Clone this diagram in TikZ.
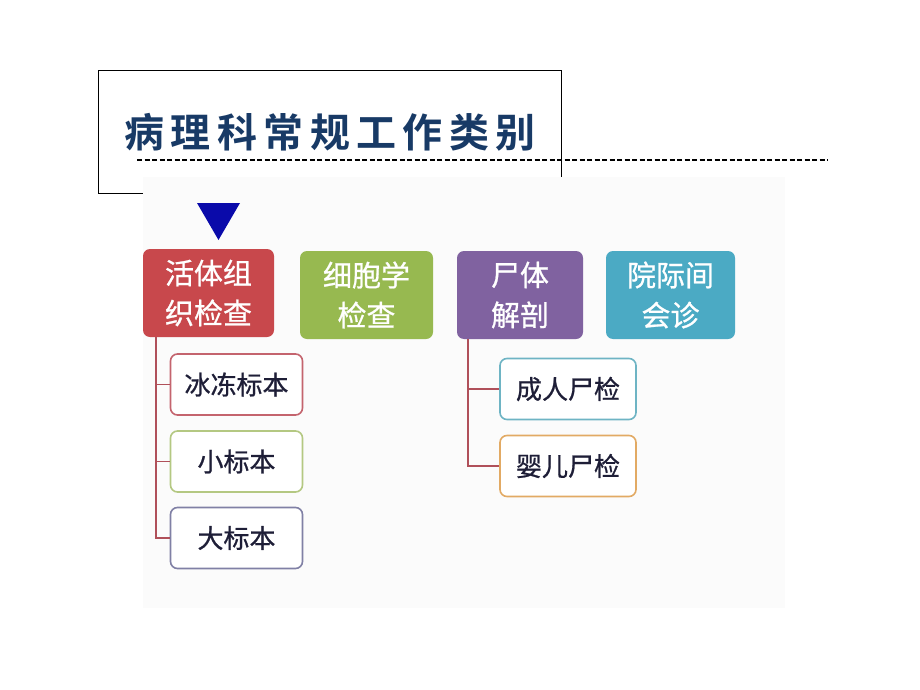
\documentclass[tikz,border=0pt]{standalone}
\usepackage{fontspec}
\newfontfamily\cjk{Noto Sans CJK SC}
\newfontfamily\cjkb{Noto Sans CJK SC Bold}
\newfontfamily\cjkm[FakeBold=0.8]{Noto Sans CJK SC}
\definecolor{navy}{RGB}{24,58,102}
\definecolor{cred}{RGB}{200,72,76}
\definecolor{cgreen}{RGB}{151,185,80}
\definecolor{cpurple}{RGB}{128,98,160}
\definecolor{cteal}{RGB}{75,170,196}
\definecolor{lred}{RGB}{196,100,110}
\definecolor{lgreen}{RGB}{180,200,130}
\definecolor{lblue}{RGB}{128,128,165}
\definecolor{lteal}{RGB}{110,180,196}
\definecolor{lorange}{RGB}{226,170,100}
\definecolor{conn}{RGB}{176,80,90}
\definecolor{txt}{RGB}{30,30,55}
\definecolor{bgimg}{RGB}{251,251,251}
\definecolor{tri}{RGB}{10,10,170}
\tikzset{
  topbox/.style={rounded corners=7pt, minimum width=#1, minimum height=88pt, align=center, text=white, font=\cjkm\fontsize{29}{40}\selectfont, inner sep=0pt},
  subbox/.style={rounded corners=7pt, draw=#1, line width=1.6pt, fill=white, minimum width=132pt, minimum height=61pt, text=txt, font=\cjkm\fontsize{26}{30}\selectfont, inner sep=0pt},
  link/.style={draw=conn, line width=1.4pt}
}
\begin{document}
\begin{tikzpicture}[x=1pt,y=-1pt]
\useasboundingbox (0,0) rectangle (920,690);
\fill[white] (0,0) rectangle (920,690);
% title box
\draw[line width=0.8pt] (98,70) rectangle (561,193);
% image background
\fill[bgimg] (143,177) rectangle (785,608);
\node (title) at (330,132) {\cjkb\fontsize{40}{44}\selectfont\addfontfeature{LetterSpace=16}\color{navy}病理科常规工作类别};
\coordinate (dl) at (137,160);
\coordinate (dr) at (828,160);
\draw[line width=1.2pt, dash pattern=on 5pt off 2.5pt] (dl) -- (dr);
% triangle
\fill[tri] (197,203) -- (240,203) -- (218.5,240) -- cycle;
% top boxes
\node[topbox=131pt, fill=cred] (a) at (208.5,293) {活体组\\织检查};
\node[topbox=133pt, fill=cgreen] (b) at (366.5,295) {细胞学\\检查};
\node[topbox=126pt, fill=cpurple] (c) at (520,295) {尸体\\解剖};
\node[topbox=129pt, fill=cteal] (d) at (670.5,295) {院际间\\会诊};
% sub boxes
\node[subbox=lred] (a1) at (236.5,384.5) {冰冻标本};
\node[subbox=lgreen] (a2) at (236.5,461.5) {小标本};
\node[subbox=lblue] (a3) at (236.5,538) {大标本};
\node[subbox=lteal, minimum width=136pt] (c1) at (568,389) {成人尸检};
\node[subbox=lorange, minimum width=136pt] (c2) at (568,466) {婴儿尸检};
% connectors
\draw[link] (a.south -| 156,0) |- (a3.west);
\draw[link] (156,0 |- a1.west) -- (a1.west);
\draw[link] (156,0 |- a2.west) -- (a2.west);
\draw[link] (c.south -| 468,0) |- (c2.west);
\draw[link] (468,0 |- c1.west) -- (c1.west);
\end{tikzpicture}
\end{document}
